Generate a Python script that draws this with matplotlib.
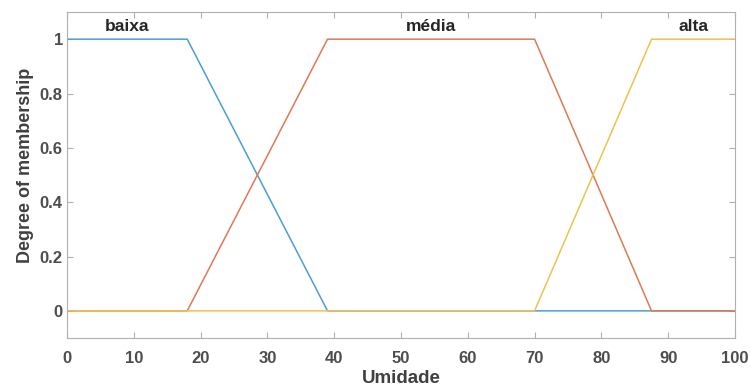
import numpy as np
import matplotlib.pyplot as plt

plt.rcParams['font.family'] = ['Liberation Sans', 'DejaVu Sans']

# Funkcje przynależności (trapezy) dla zmiennej "Umidade"
baixa_x = [0, 18, 39, 100]
baixa_y = [1, 1, 0, 0]
media_x = [0, 18, 39, 70, 87.5, 100]
media_y = [0, 0, 1, 1, 0, 0]
alta_x = [0, 70, 87.5, 100]
alta_y = [0, 0, 1, 1]

labels = ['baixa', 'média', 'alta']
label_x = [9, 54.5, 93.75]
xticks = np.arange(0, 101, 10)
yticks = [0, 0.2, 0.4, 0.6, 0.8, 1]

colors = ['#4a9fd4', '#dd7a55', '#eec24f']

fig = plt.figure(figsize=(7.51, 3.91), dpi=100)
ax = fig.add_axes([0.0892, 0.1355, 0.8895, 0.8338])

ax.plot(baixa_x, baixa_y, color=colors[0], lw=1.1)
ax.plot(media_x, media_y, color=colors[1], lw=1.1)
ax.plot(alta_x, alta_y, color=colors[2], lw=1.1)

for lab, lx in zip(labels, label_x):
    ax.text(lx, 1.045, lab, ha='center', va='center', fontsize=12.5,
            fontweight='bold', color='#262626')

ax.set_xlim(0, 100)
ax.set_ylim(-0.1, 1.1)
ax.set_xticks(xticks)
ax.set_yticks(yticks)
ax.set_yticklabels(['0', '0.2', '0.4', '0.6', '0.8', '1'])
ax.tick_params(direction='in', top=True, right=True, length=4,
               color='#b0b0b0', labelcolor='#4d4d4d', labelsize=12)
ax.tick_params(axis='x', pad=9)
ax.tick_params(axis='y', pad=3)
for lbl in ax.get_xticklabels() + ax.get_yticklabels():
    lbl.set_fontweight('bold')
for sp in ax.spines.values():
    sp.set_color('#b0b0b0')
    sp.set_linewidth(0.8)

ax.set_xlabel('Umidade', fontsize=13.5, fontweight='bold', color='#404040',
              labelpad=3)
ax.set_ylabel('Degree of membership', fontsize=13, fontweight='bold',
              color='#404040')
ax.yaxis.set_label_coords(-0.05, 0.53)

plt.savefig('out.png', dpi=100)
